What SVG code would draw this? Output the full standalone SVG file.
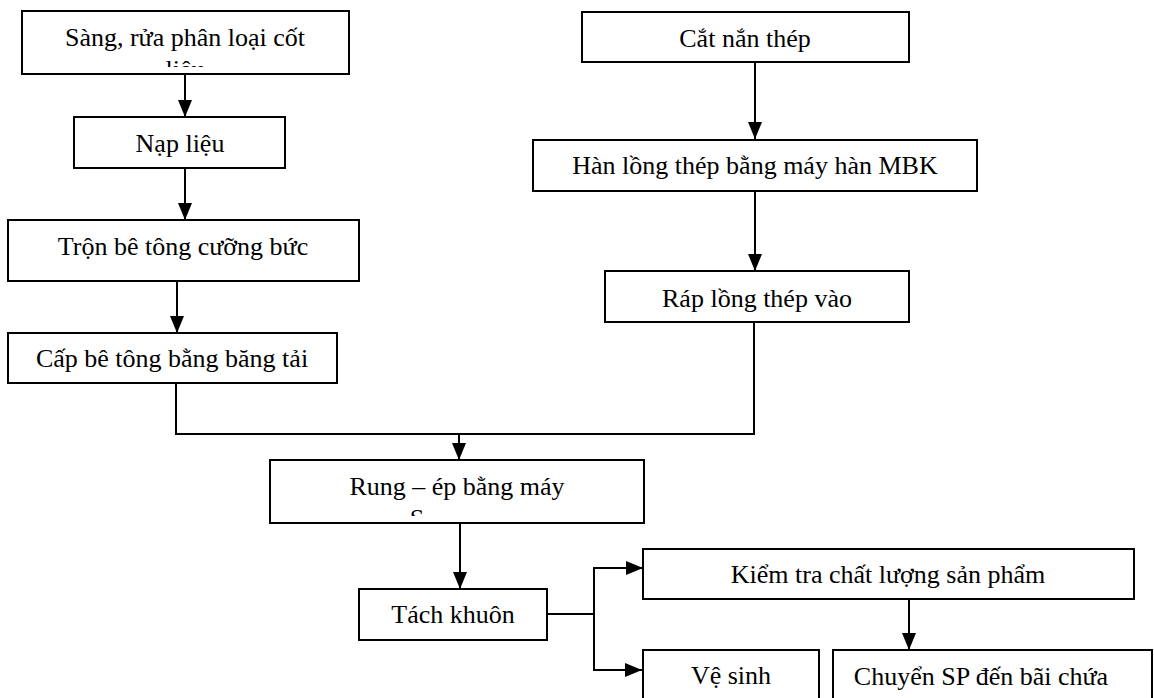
<svg xmlns="http://www.w3.org/2000/svg" width="1154" height="698" viewBox="0 0 1154 698">
<style>
.box{fill:#fff;stroke:#000;stroke-width:2}
.t{font-family:"Liberation Serif","Times New Roman",serif;font-size:26px;fill:#000;text-anchor:middle}
.c{fill:none;stroke:#000;stroke-width:2}
</style>
<defs>
<marker id="ah" markerUnits="userSpaceOnUse" markerWidth="17" markerHeight="14" refX="17" refY="7" orient="auto">
<path d="M0,0 L17,7 L0,14 z" fill="#000"/>
</marker>
<clipPath id="clipSang"><rect x="22" y="11" width="327" height="56"/></clipPath>
<clipPath id="clipRung"><rect x="270" y="460" width="374" height="56"/></clipPath>
</defs>
<rect width="1154" height="698" fill="#fff"/>
<g id="connectors">
<path class="c" d="M185,74 V117" marker-end="url(#ah)"/>
<path class="c" d="M185,168 V220" marker-end="url(#ah)"/>
<path class="c" d="M177,281 V333" marker-end="url(#ah)"/>
<path class="c" d="M755,62 V139" marker-end="url(#ah)"/>
<path class="c" d="M755,192 V271" marker-end="url(#ah)"/>
<path class="c" d="M176,383 V434 H754 V322"/>
<path class="c" d="M459,434 V460" marker-end="url(#ah)"/>
<path class="c" d="M460,523 V589" marker-end="url(#ah)"/>
<path class="c" d="M547,614 H594"/>
<path class="c" d="M594,568 V670"/>
<path class="c" d="M593,568 H643" marker-end="url(#ah)"/>
<path class="c" d="M593,670 H642" marker-end="url(#ah)"/>
<path class="c" d="M909,600 V650" marker-end="url(#ah)"/>
</g>
<g id="n-sang">
<rect class="box" x="22" y="11" width="327" height="63"/>
<g clip-path="url(#clipSang)">
<text class="t" x="185" y="46">Sàng, rửa phân loại cốt</text>
<text class="t" x="185" y="78">liệu</text>
</g>
</g>
<g id="n-nap">
<rect class="box" x="74" y="117" width="211" height="51"/>
<text class="t" x="180" y="152">Nạp liệu</text>
</g>
<g id="n-tron">
<rect class="box" x="8" y="220" width="351" height="61"/>
<text class="t" x="183" y="255">Trộn bê tông cưỡng bức</text>
</g>
<g id="n-cap">
<rect class="box" x="8" y="333" width="329" height="50"/>
<text class="t" x="172" y="367">Cấp bê tông bằng băng tải</text>
</g>
<g id="n-cat">
<rect class="box" x="582" y="12" width="327" height="50"/>
<text class="t" x="745" y="47">Cắt nắn thép</text>
</g>
<g id="n-han">
<rect class="box" x="533" y="140" width="444" height="51"/>
<text class="t" x="755" y="174">Hàn lồng thép bằng máy hàn MBK</text>
</g>
<g id="n-rap">
<rect class="box" x="605" y="271" width="304" height="51"/>
<text class="t" x="757" y="307">Ráp lồng thép vào</text>
</g>
<g id="n-rung">
<rect class="box" x="270" y="460" width="374" height="63"/>
<g clip-path="url(#clipRung)">
<text class="t" x="457" y="495">Rung – ép bằng máy</text>
<text class="t" x="417" y="527">S</text>
</g>
</g>
<g id="n-tach">
<rect class="box" x="359" y="589" width="188" height="51"/>
<text class="t" x="453" y="623">Tách khuôn</text>
</g>
<g id="n-kiem">
<rect class="box" x="643" y="549" width="491" height="50"/>
<text class="t" x="888" y="583">Kiểm tra chất lượng sản phẩm</text>
</g>
<g id="n-vesinh">
<rect class="box" x="643" y="650" width="176" height="60"/>
<text class="t" x="731" y="684">Vệ sinh</text>
</g>
<g id="n-chuyen">
<rect class="box" x="833" y="650" width="319" height="60"/>
<text class="t" x="981" y="685">Chuyển SP đến bãi chứa</text>
</g>
</svg>
